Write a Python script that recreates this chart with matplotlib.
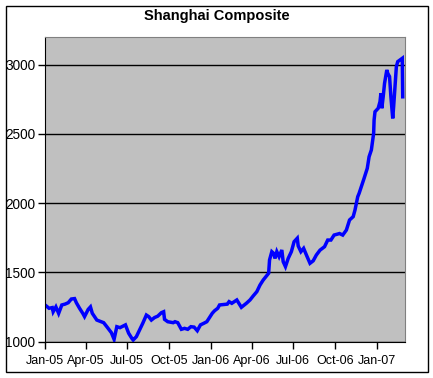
import numpy as np
import pandas as pd
import matplotlib
matplotlib.use("Agg")
import matplotlib.pyplot as plt
import matplotlib.dates as mdates
from matplotlib.patches import Rectangle

plt.rcParams['font.family'] = ['Liberation Sans', 'DejaVu Sans']

# index levels
dates = [
    "2005-01-04", "2005-01-10", "2005-01-17", "2005-01-19", "2005-01-25", "2005-01-31",
    "2005-02-07", "2005-02-14", "2005-02-21", "2005-02-28", "2005-03-07", "2005-03-11",
    "2005-03-18", "2005-03-25", "2005-03-29", "2005-04-06", "2005-04-11", "2005-04-15",
    "2005-04-25", "2005-05-10", "2005-05-17", "2005-05-27", "2005-06-02", "2005-06-08",
    "2005-06-15", "2005-06-27", "2005-07-04", "2005-07-11", "2005-07-14", "2005-07-21",
    "2005-07-28", "2005-08-04", "2005-08-12", "2005-08-17", "2005-08-23", "2005-08-30",
    "2005-09-06", "2005-09-14", "2005-09-19", "2005-09-21", "2005-09-28", "2005-10-10",
    "2005-10-14", "2005-10-20", "2005-10-28", "2005-11-04", "2005-11-11", "2005-11-18",
    "2005-11-25", "2005-12-02", "2005-12-09", "2005-12-16", "2005-12-23", "2006-01-04",
    "2006-01-09", "2006-01-16", "2006-01-20", "2006-02-06", "2006-02-10", "2006-02-16",
    "2006-02-27", "2006-03-09", "2006-03-20", "2006-03-28", "2006-04-04", "2006-04-12",
    "2006-04-19", "2006-04-26", "2006-05-08", "2006-05-10", "2006-05-15", "2006-05-19",
    "2006-05-22", "2006-05-26", "2006-05-31", "2006-06-06", "2006-06-09", "2006-06-14",
    "2006-06-20", "2006-06-27", "2006-07-03", "2006-07-10", "2006-07-12", "2006-07-18",
    "2006-07-24", "2006-07-31", "2006-08-07", "2006-08-14", "2006-08-21", "2006-08-29",
    "2006-09-08", "2006-09-15", "2006-09-22", "2006-09-29", "2006-10-11", "2006-10-18",
    "2006-10-26", "2006-11-02", "2006-11-10", "2006-11-14", "2006-11-20", "2006-11-23",
    "2006-12-04", "2006-12-11", "2006-12-15", "2006-12-20", "2006-12-25", "2006-12-26",
    "2006-12-28", "2007-01-04", "2007-01-08", "2007-01-10", "2007-01-12", "2007-01-15",
    "2007-01-18", "2007-01-23", "2007-01-25", "2007-01-29", "2007-02-01", "2007-02-05",
    "2007-02-07", "2007-02-09", "2007-02-13", "2007-02-16", "2007-02-26", "2007-02-27",
]
values = [
    1256, 1240, 1245, 1215, 1250, 1203,
    1264, 1270, 1280, 1307, 1310, 1280,
    1240, 1204, 1180, 1232, 1250, 1204,
    1155, 1136, 1107, 1064, 1016, 1107,
    1100, 1120, 1060, 1023, 1011, 1035,
    1083, 1131, 1191, 1180, 1155, 1173,
    1183, 1208, 1215, 1160, 1143, 1136,
    1143, 1136, 1088, 1095, 1088, 1107,
    1104, 1078, 1120, 1131, 1143, 1204,
    1222, 1240, 1264, 1270, 1288, 1276,
    1300, 1247, 1276, 1300, 1329, 1360,
    1408, 1444, 1493, 1589, 1649, 1637,
    1600, 1649, 1613, 1661, 1577, 1541,
    1600, 1649, 1721, 1746, 1691, 1649,
    1673, 1618, 1565, 1583, 1625, 1660,
    1685, 1733, 1733, 1769, 1780, 1769,
    1805, 1878, 1902, 1950, 2046, 2070,
    2179, 2251, 2335, 2384, 2504, 2600,
    2660, 2685, 2733, 2793, 2685, 2768,
    2865, 2962, 2938, 2914, 2768, 2612,
    2697, 2793, 2986, 3022, 3046, 2768,
]
tick_dates = ["2005-01-01", "2005-04-01", "2005-07-01", "2005-10-01", "2006-01-01",
              "2006-04-01", "2006-07-01", "2006-10-01", "2007-01-01"]
y_ticks = [1000, 1500, 2000, 2500, 3000]

x = pd.to_datetime(dates)

fig = plt.figure(figsize=(4.33, 3.78), dpi=100)
ax = fig.add_axes([45 / 433, 1 - 341.5 / 378, 360 / 433, 304.5 / 378])
ax.set_facecolor("#C0C0C0")

ax.plot(x, values, color="#0000FF", lw=2.5, solid_joinstyle="miter")

ax.set_ylim(1000, 3200)
ax.set_xlim(pd.Timestamp("2005-01-01"), pd.Timestamp("2007-03-04"))
ax.set_yticks(y_ticks)
ax.set_xticks(pd.to_datetime(tick_dates))
ax.xaxis.set_major_formatter(mdates.DateFormatter("%b-%y"))
ax.grid(axis="y", color="black", lw=1)
ax.set_axisbelow(True)

ax.tick_params(axis="both", direction="out", length=5, width=1, color="black",
               labelsize=9.8, pad=2)
ax.tick_params(axis="x", pad=5, labelsize=9.0)
for s in ["left", "bottom"]:
    ax.spines[s].set_color("black")
for s in ["top", "right"]:
    ax.spines[s].set_color("#808080")

fig.text(0.5, 1 - 16 / 378, "Shanghai Composite", ha="center", va="center",
         fontsize=10.5, fontweight="bold")

fig.patches.append(Rectangle((5.5 / 433, 1 - 371.5 / 378), 422 / 433, 366 / 378,
                             transform=fig.transFigure, fill=False,
                             edgecolor="black", lw=1))

fig.savefig("out.png", dpi=100)
